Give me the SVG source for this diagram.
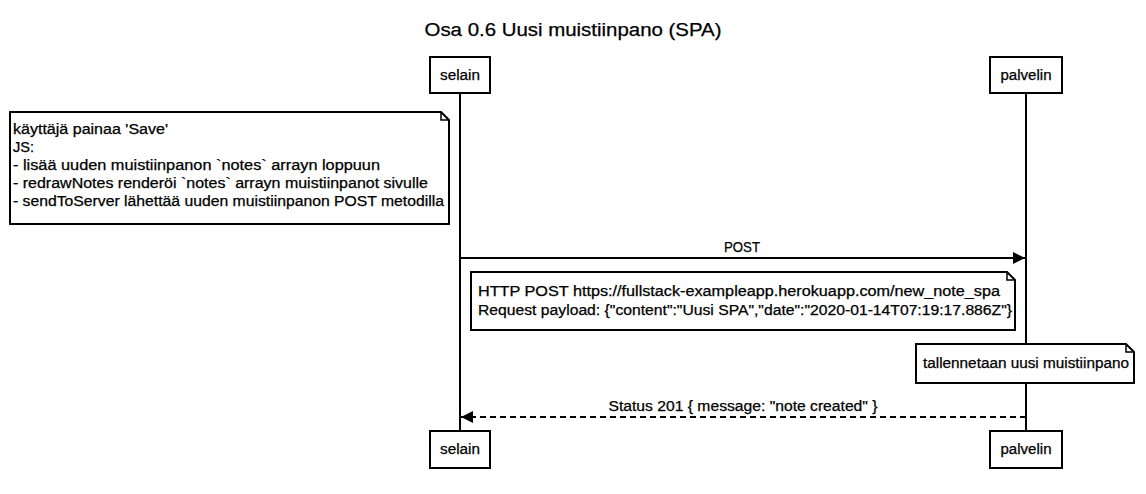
<svg xmlns="http://www.w3.org/2000/svg" width="1146" height="494" viewBox="0 0 1146 494">
<style>
text{font-family:"Liberation Sans",Arial,sans-serif;fill:#000;stroke:#000;stroke-width:0.25}
.title{font-size:18px;text-anchor:middle}
.lbl{font-size:14px}
.mid{text-anchor:middle}
.box{fill:#fff;stroke:#000;stroke-width:2}
.life{stroke:#000;stroke-width:2;fill:none}
.msg{stroke:#000;stroke-width:2;fill:none}
.dash{stroke-dasharray:6,4}
.fold{fill:none;stroke:#000;stroke-width:1.5}
</style>
<defs>
<marker id="ah" viewBox="0 0 12 12" refX="12" refY="6" markerWidth="12" markerHeight="12" markerUnits="userSpaceOnUse" orient="auto">
<path d="M0,0 L12,6 L0,12 z" fill="#000"/>
</marker>
</defs>
<rect width="1146" height="494" fill="#fff"/>
<text class="title" x="573" y="36" textLength="297" lengthAdjust="spacingAndGlyphs">Osa 0.6 Uusi muistiinpano (SPA)</text>
<g id="lifelines">
<line class="life" x1="460" y1="93" x2="460" y2="431"/>
<line class="life" x1="1026" y1="93" x2="1026" y2="431"/>
</g>
<g id="selain">
<rect class="box" x="430" y="57" width="60" height="36"/>
<text class="lbl mid" x="460" y="80" textLength="40" lengthAdjust="spacingAndGlyphs">selain</text>
</g>
<g id="palvelin">
<rect class="box" x="990" y="57" width="72" height="36"/>
<text class="lbl mid" x="1026" y="80" textLength="51" lengthAdjust="spacingAndGlyphs">palvelin</text>
</g>
<g id="selain-bottom">
<rect class="box" x="430" y="431" width="60" height="37"/>
<text class="lbl mid" x="460" y="454" textLength="40" lengthAdjust="spacingAndGlyphs">selain</text>
</g>
<g id="palvelin-bottom">
<rect class="box" x="990" y="431" width="72" height="37"/>
<text class="lbl mid" x="1026" y="454" textLength="51" lengthAdjust="spacingAndGlyphs">palvelin</text>
</g>
<g id="note1">
<path class="box" d="M10,112 H441 L449,120 V224 H10 Z"/>
<path class="fold" d="M441,112 V120 H449"/>
<text class="lbl" x="13" y="134" textLength="155" lengthAdjust="spacingAndGlyphs">käyttäjä painaa 'Save'</text>
<text class="lbl" x="13" y="152" textLength="21" lengthAdjust="spacingAndGlyphs">JS:</text>
<text class="lbl" x="13" y="170" textLength="367" lengthAdjust="spacingAndGlyphs">- lisää uuden muistiinpanon `notes` arrayn loppuun</text>
<text class="lbl" x="13" y="188" textLength="415" lengthAdjust="spacingAndGlyphs">- redrawNotes renderöi `notes` arrayn muistiinpanot sivulle</text>
<text class="lbl" x="13" y="206" textLength="431" lengthAdjust="spacingAndGlyphs">- sendToServer lähettää uuden muistiinpanon POST metodilla</text>
</g>
<g id="connectors">
<line class="msg" x1="460" y1="258" x2="1025" y2="258" marker-end="url(#ah)"/>
<text class="lbl mid" x="742" y="252" textLength="36" lengthAdjust="spacingAndGlyphs">POST</text>
<line class="msg dash" x1="1026" y1="417" x2="461" y2="417" marker-end="url(#ah)"/>
<text class="lbl mid" x="743" y="411" textLength="269" lengthAdjust="spacingAndGlyphs">Status 201 { message: "note created" }</text>
</g>
<g id="note2">
<path class="box" d="M471,272 H1007 L1015,280 V330 H471 Z"/>
<path class="fold" d="M1007,272 V280 H1015"/>
<text class="lbl" x="478" y="296" textLength="522" lengthAdjust="spacingAndGlyphs">HTTP POST https://fullstack-exampleapp.herokuapp.com/new_note_spa</text>
<text class="lbl" x="478" y="315" textLength="534" lengthAdjust="spacingAndGlyphs">Request payload:  {"content":"Uusi SPA","date":"2020-01-14T07:19:17.886Z"}</text>
</g>
<g id="note3">
<path class="box" d="M916,344 H1126 L1134,352 V383 H916 Z"/>
<path class="fold" d="M1126,344 V352 H1134"/>
<text class="lbl" x="923" y="368" textLength="206" lengthAdjust="spacingAndGlyphs">tallennetaan uusi muistiinpano</text>
</g>
</svg>
